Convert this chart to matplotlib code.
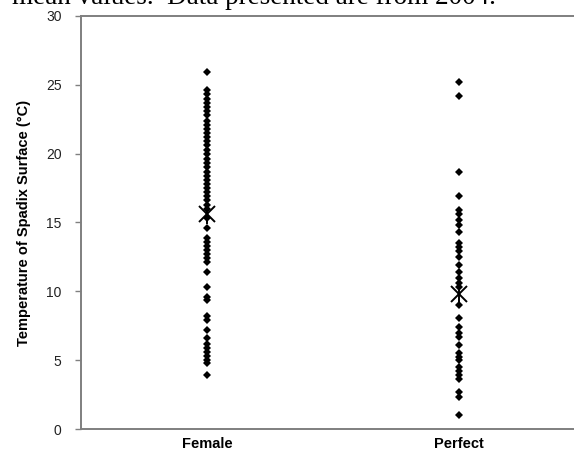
import matplotlib
matplotlib.use('Agg')
import matplotlib.pyplot as plt

#- Data (spadix surface temperature, deg C)
groups = ['Female', 'Perfect']
female_temps = [25.9,
                24.6, 24.3, 24.0, 23.7, 23.4, 23.1, 22.8, 22.4, 22.1, 21.8,
                21.5, 21.2, 20.9, 20.6, 20.3, 20.0, 19.6, 19.3, 19.0, 18.7,
                18.4, 18.1, 17.8, 17.5, 17.2, 16.9, 16.6, 16.3, 16.0, 15.3,
                14.6, 13.9, 13.6, 13.3, 13.0, 12.7, 12.4, 12.1, 11.4, 10.3,
                9.6, 9.4, 8.2, 7.9, 7.2, 6.6, 6.2, 5.9, 5.6, 5.3, 5.0, 4.8, 3.9]
perfect_temps = [25.2, 24.2, 18.7, 16.9, 15.9, 15.6, 15.2, 14.8, 14.3, 13.5,
                 13.2, 12.9, 12.5, 11.9, 11.4, 11.0, 10.6, 10.3, 9.0, 8.1,
                 7.4, 7.0, 6.7, 6.1, 5.5, 5.2, 5.0, 4.5, 4.2, 3.9, 3.6, 2.7,
                 2.3, 1.0]
means = [15.6, 9.8]
yticks = [0, 5, 10, 15, 20, 25, 30]

fig = plt.figure(figsize=(5.74, 4.55), dpi=100)
ax = fig.add_axes([0.141, 0.057, 0.878, 0.908])

#- Individual measurements as small diamonds
for i, temps in enumerate([female_temps, perfect_temps]):
    ax.plot([i + 1] * len(temps), temps, 'D', color='black',
            markersize=3.8, markeredgewidth=0, linestyle='none')

#- Mean marker: Excel style star (x with a vertical bar)
xs = [1, 2]
ax.plot(xs, means, 'x', color='black', markersize=12, markeredgewidth=1.4,
        linestyle='none')
ax.plot(xs, means, '|', color='black', markersize=14, markeredgewidth=1.4,
        linestyle='none')

ax.set_xlim(0.5, 2.5)
ax.set_ylim(0, 30)
ax.set_yticks(yticks)
ax.set_xticks(xs)
ax.set_xticklabels(groups, fontsize=10.5, fontweight='bold',
                   family='Liberation Sans')
ax.tick_params(axis='x', length=0, pad=6)
ax.tick_params(axis='y', direction='out', length=4, width=1,
               color='#808080', labelsize=10, pad=10)
for lab in ax.get_yticklabels():
    lab.set_family('Liberation Sans')
    lab.set_color('#222222')

for side in ['left', 'bottom', 'top', 'right']:
    ax.spines[side].set_color('#7f7f7f')
    ax.spines[side].set_linewidth(1.4)

ax.set_ylabel('Temperature of Spadix Surface (°C)', fontsize=10.5,
              fontweight='bold', family='Liberation Sans', labelpad=11)

#- Caption text cut off at the top of the image
fig.text(0.021, 1 - 4 / 455, 'mean values.  Data presented are from 2004.',
         fontsize=19.5, family='Liberation Serif', va='baseline', ha='left')

fig.savefig('out.png', dpi=100)
